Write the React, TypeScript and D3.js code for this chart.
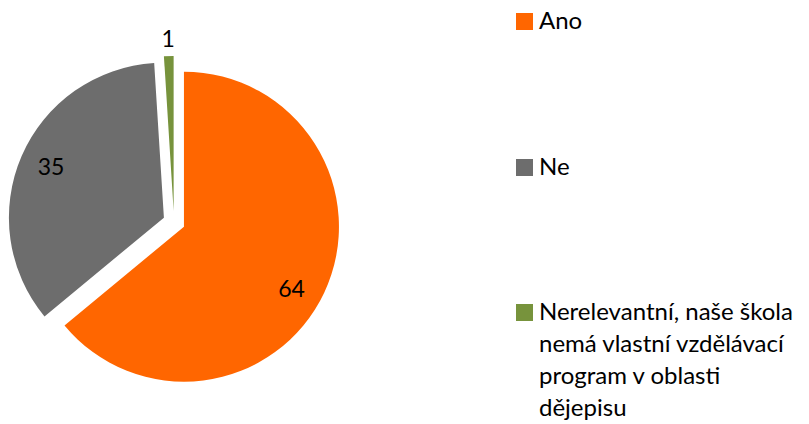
import React from "react";
import * as d3 from "d3";

const categories = ["Ano", "Ne", "Nerelevantní, naše škola nemá vlastní vzdělávací program v oblasti dějepisu"];
const values = [64, 35, 1];
const colors = ["#FF6600", "#6D6D6D", "#77933C"];
const legendLines = [["Ano"], ["Ne"], ["Nerelevantní, naše škola", "nemá vlastní vzdělávací", "program v oblasti", "dějepisu"]];

const W = 809;
const H = 424;
const cx = 174;
const cy = 222;
const R = 155;
const explode = 11;
const font = "Lato, 'Open Sans', sans-serif";

export default function App() {
  const pie = d3.pie<number>().sort(null).startAngle(0).endAngle(2 * Math.PI);
  const arcs = pie(values);
  const arc = d3.arc<d3.PieArcDatum<number>>().innerRadius(0).outerRadius(R);
  const legendY = [0, 146, 291];
  return (
    <svg width={W} height={H} style={{ position: "absolute", left: 0, top: 0, background: "#fff" }}>
      {arcs.map((a, i) => {
        const mid = (a.startAngle + a.endAngle) / 2;
        const dx = Math.sin(mid) * explode;
        const dy = -Math.cos(mid) * explode;
        const small = a.endAngle - a.startAngle < 0.2;
        const lr = small ? R + 18 : R * 0.8;
        const la = small ? mid : mid + (i === 0 ? 0.08 : 0.02);
        const lx = dx + Math.sin(la) * lr;
        const ly = dy - Math.cos(la) * lr;
        return (
          <g key={i} transform={`translate(${cx},${cy})`}>
            <path d={arc(a) || ""} transform={`translate(${dx},${dy})`} fill={colors[i]} />
            <text x={lx} y={ly} textAnchor="middle" dominantBaseline="central" fontFamily={font} fontSize={23} fill="#000">
              {values[i]}
            </text>
          </g>
        );
      })}
      {categories.map((c, i) => (
        <g key={c} transform={`translate(516,${13 + legendY[i]})`}>
          <rect x={0} y={0} width={17} height={17} fill={colors[i]} />
          {legendLines[i].map((l, j) => (
            <text key={j} x={23} y={16 + j * 32} fontFamily={font} fontSize={24} fill="#000">
              {l}
            </text>
          ))}
        </g>
      ))}
    </svg>
  );
}
